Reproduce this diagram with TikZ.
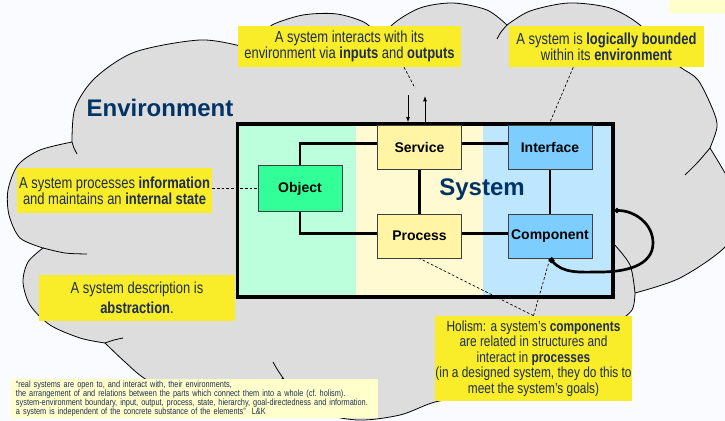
\documentclass[tikz,border=0pt]{standalone}
\usepackage{fontspec}
\setmainfont{Liberation Sans}
\newfontfamily\narrowfont{Liberation Sans}[FakeStretch=0.81]
\usetikzlibrary{arrows.meta}
\usetikzlibrary{calc}
\definecolor{bg}{RGB}{250,251,254}
\definecolor{cloudgray}{RGB}{221,221,221}
\definecolor{callout}{RGB}{249,236,40}
\definecolor{paleyellow}{RGB}{255,255,204}
\definecolor{navy}{RGB}{0,51,102}
\definecolor{ink}{RGB}{30,45,80}
\definecolor{greenbg}{RGB}{187,255,220}
\definecolor{greenbox}{RGB}{51,255,153}
\definecolor{yellowbg}{RGB}{255,250,210}
\definecolor{yellowbox}{RGB}{255,245,165}
\definecolor{bluebg}{RGB}{190,230,255}
\definecolor{bluebox}{RGB}{125,205,255}

\begin{document}
\begin{tikzpicture}[x=0.75pt, y=-0.75pt,
        cloudline/.style={draw=black, line width=0.6pt},
        part/.style={draw=black!75, line width=0.6pt, minimum width=62.5pt, minimum height=33pt,
            inner sep=0pt, font=\bfseries\fontsize{10.5}{12}\selectfont},
        note/.style={fill=callout, text=ink, align=center, inner sep=0pt,
            font=\narrowfont\fontsize{12}{12}\selectfont},
        title/.style={text=navy, font=\bfseries\fontsize{18}{18}\selectfont},
        link/.style={line width=2.2pt},
        pointer/.style={dash pattern=on 2pt off 1.5pt, line width=0.5pt},
        flow/.style={line width=0.6pt, -{Latex[length=4pt,width=3pt]}}
    ]
        \useasboundingbox (0,0) rectangle (725,421);
        \clip (0,0) rectangle (725,421);
        \fill[bg] (0,0) rectangle (725,421);
        \fill[paleyellow] (669,0) rectangle (725,13);

        \filldraw[cloudline, fill=cloudgray]
            plot[smooth] coordinates {(72,142) (75,108) (95,78) (135,52) (200,40) (245,47) (262,53)}
            -- plot[smooth] coordinates {(262,53) (265,36) (272,25) (303,15) (337,14) (367,24) (382,45)}
            -- plot[smooth] coordinates {(382,45) (392,25) (420,8) (453,3) (487,10) (507,25)}
            -- plot[smooth] coordinates {(507,25) (530,11) (569,3) (610,8) (640,25) (660,50)}
            -- plot[smooth] coordinates {(660,50) (680,67) (698,80) (713,110) (717,127) (710,148)}
            -- plot[smooth] coordinates {(710,148) (725,173) (745,210) (725,247) (680,278) (635,293)}
            -- plot[smooth] coordinates {(635,293) (632,310) (615,325) (595,345)}
            -- plot[smooth] coordinates {(595,345) (540,380) (480,394) (435,402) (400,415) (357,420) (315,410) (283,378)}
            -- plot[smooth] coordinates {(283,378) (250,398) (190,400) (147,380) (125,362) (105,343)}
            -- plot[smooth] coordinates {(105,343) (80,338) (50,325) (30,305) (23,282) (28,262) (43,248)}
            -- plot[smooth] coordinates {(43,248) (20,238) (9,215) (8,190) (18,165) (40,150) (72,142)}
            -- cycle;
        \draw[cloudline] plot[smooth] coordinates {(72,142) (74,148) (77,154)};
        \draw[cloudline] plot[smooth] coordinates {(43,248) (65,253) (87,254)};
        \draw[cloudline] plot[smooth] coordinates {(105,343) (114,340) (123,338)};
        \draw[cloudline] plot[smooth] coordinates {(283,378) (277,369) (273,362)};
        \draw[cloudline] plot[smooth] coordinates {(507,25) (501,32) (497,39)};
        \draw[cloudline] plot[smooth] coordinates {(710,148) (698,162) (685,175)};
        \draw[cloudline] plot[smooth] coordinates {(635,293) (630,265) (613,243)};

        \node[title] (env) at (160,108) {Environment};

        \fill[greenbg] (237.5,124) rectangle (356,297);
        \fill[yellowbg] (356,124) rectangle (483,297);
        \fill[bluebg] (483,124) rectangle (613,297);
        \node[draw, line width=2.5pt, minimum width=281.6pt, minimum height=129.75pt] (sys) at (425.25,210.5) {};

        \node[part, fill=greenbox, minimum width=63pt, minimum height=34pt] (obj) at (300,188.5) {Object};
        \node[part, fill=yellowbox] (svc) at (419.5,147.5) {Service};
        \node[part, fill=yellowbox] (prc) at (419.5,236) {Process};
        \node[part, fill=bluebox, minimum width=63pt] (ifc) at (550,147.5) {Interface};
        \node[part, fill=bluebox, minimum width=63pt] (cmp) at (550,236) {Component};

        \draw[link] (obj.north) |- ([yshift=3pt]svc.west);
        \draw[link] (obj.south) |- ([yshift=2pt]prc.west);
        \draw[link] (svc.south) -- (prc.north);
        \draw[link] ([yshift=3pt]svc.east) -- ([yshift=3pt]ifc.west);
        \draw[link] ([yshift=2pt]prc.east) -- ([yshift=2pt]cmp.west);
        \draw[link] (ifc.south) -- (cmp.north);

        \node[title] (systxt) at (482,190) {System};

        \node[note, minimum width=167.25pt, minimum height=30.75pt] (io) at (349.5,46.5)
            {A system interacts with its\\environment via \textbf{inputs} and \textbf{outputs}};
        \node[note, minimum width=146.25pt, minimum height=30.75pt] (bound) at (606.5,46.5)
            {A system is \textbf{logically bounded}\\within its \textbf{environment}};
        \node[note, minimum width=146.25pt, minimum height=33.75pt] (state) at (114.5,190.5)
            {A system processes \textbf{information}\\and maintains an \textbf{internal state}};
        \node[note, minimum width=147pt, minimum height=34.5pt] (abstr) at (137,298)
            {A system description is\\[3pt]\textbf{abstraction}.};
        \node[note, minimum width=147.75pt, minimum height=63.75pt,
            font=\narrowfont\fontsize{11}{11.7}\selectfont] (holism) at (533.5,358.5)
            {Holism: a system’s \textbf{components}\\are related in structures and\\interact in \textbf{processes}\\(in a designed system, they do this to\\meet the system’s goals)};
        \node[fill=paleyellow, text=ink, align=left, text width=267.75pt, inner xsep=3.75pt, inner ysep=0pt,
            minimum height=29.25pt, font=\narrowfont\fontsize{6.8}{6.75}\selectfont] (quote) at (194.5,398.5)
            {“real systems are open to, and interact with, their environments,\\
            the arrangement of and relations between the parts which connect them into a whole (cf.\ holism).\\
            system-environment boundary, input, output, process, state, hierarchy, goal-directedness and information.\\
            a system is independent of the concrete substance of the elements”~~L\&K};

        \coordinate (ioend) at (415,88);
        \coordinate (inp) at (408,95);
        \coordinate (outp) at (425,96);
        \draw[pointer] ($(io.south west)!0.744!(io.south east)$) -- (ioend);
        \draw[pointer] ($(bound.south west)!0.33!(bound.south east)$) -- (cmp |- sys.north);
        \draw[pointer] (state.east |- obj.west) -- (obj.west);
        \draw[pointer] (holism.north) -- (prc.south);
        \draw[pointer] (holism.north) -- (cmp.south);
        \draw[flow] (inp) -- (inp |- sys.north);
        \draw[flow] (outp |- sys.north) -- (outp);
        \draw[line width=2pt, {Circle[length=3.5pt]}-{Square[length=3.5pt]}] (sys.east)
            to[out=0,in=90] (653,243) to[out=-90,in=0] (600,272) to[out=180,in=-50] (cmp.south);
    \end{tikzpicture}
\end{document}
